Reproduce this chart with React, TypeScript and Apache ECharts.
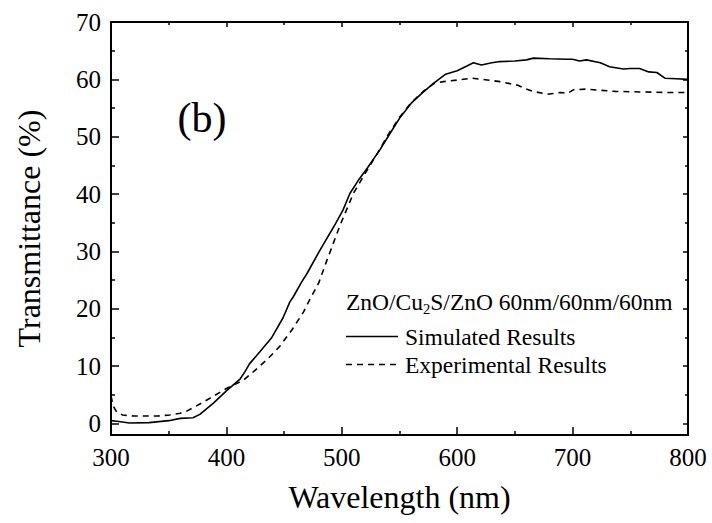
import React, { useEffect, useRef } from "react";
import * as echarts from "echarts";

const simWavelength = [300, 305, 316, 333, 350, 360, 371, 377, 389, 400, 412, 416, 420, 429, 439, 449, 455, 458, 465, 470, 481, 493, 501, 507, 515, 522, 533, 540, 545, 550, 560, 570, 580, 590, 600, 608, 614, 621, 630, 637, 650, 660, 666, 680, 695, 700, 706, 712, 724, 732, 744, 750, 758, 766, 773, 780, 790, 800];
const simTransmittance = [0.5, 0.4, 0.1, 0.15, 0.5, 0.9, 1.0, 1.6, 3.6, 5.7, 7.8, 9.0, 10.4, 12.5, 14.9, 18.4, 21.2, 22.1, 24.6, 26.2, 30.2, 34.3, 37.2, 40.1, 42.6, 44.5, 47.7, 50.0, 51.6, 53.2, 55.8, 57.7, 59.4, 60.9, 61.5, 62.3, 62.9, 62.5, 62.9, 63.1, 63.2, 63.4, 63.7, 63.6, 63.5, 63.5, 63.2, 63.4, 62.9, 62.2, 61.8, 61.9, 61.9, 61.3, 61.2, 60.2, 60.1, 60.0];

const expWavelength = [300, 302, 305, 310, 320, 340, 351, 360, 366, 377, 389, 400, 412, 415, 425, 436, 446, 457, 467, 472, 480, 487, 498, 510, 522, 533, 540, 550, 560, 570, 580, 588, 601, 613, 626, 637, 652, 659, 666, 678, 689, 696, 701, 712, 724, 737, 761, 787, 800];
const expTransmittance = [4.8, 3.0, 2.0, 1.5, 1.3, 1.3, 1.5, 1.8, 2.2, 3.4, 4.8, 6.1, 7.3, 7.6, 9.3, 11.3, 13.4, 16.4, 19.5, 21.5, 24.5, 28.4, 34.3, 40.1, 44.2, 47.8, 50.3, 53.4, 55.9, 57.8, 59.3, 59.6, 59.9, 60.2, 59.9, 59.6, 59.0, 58.4, 57.9, 57.4, 57.7, 57.6, 58.2, 58.3, 58.1, 57.9, 57.8, 57.7, 57.7];

const yMajorTicks = [0, 10, 20, 30, 40, 50, 60, 70];
const yMinorTicks = [5, 15, 25, 35, 45, 55, 65];

const seriesNames = ["Simulated Results", "Experimental Results"];
const panelLabel = "(b)";
const sampleLabelA = "ZnO/Cu";
const sampleLabelSub = "2";
const sampleLabelB = "S/ZnO 60nm/60nm/60nm";

const FONT = "Liberation Serif";

export default function App() {
  const ref = useRef<HTMLDivElement>(null);
  useEffect(() => {
    document.body.style.margin = "0";
    const chart = echarts.init(ref.current!, undefined, { renderer: "svg" });
    const simData = simWavelength.map((w, i) => [w, simTransmittance[i]]);
    const expData = expWavelength.map((w, i) => [w, expTransmittance[i]]);
    const black = "#000";
    const yBase = { type: "value", min: -2, max: 70, splitLine: { show: false } };
    const txt = (text: string, x: number, y: number, size: number) => ({
      type: "text", x, y,
      style: { text, fontFamily: FONT, fontSize: size, fill: black, align: "left", verticalAlign: "middle" },
    });
    chart.setOption({
      animation: false,
      backgroundColor: "#fff",
      grid: { left: 111, right: 24, top: 22, bottom: 88, containLabel: false },
      xAxis: [
        {
          type: "value", min: 300, max: 800, interval: 100, position: "bottom",
          axisLine: { show: true, onZero: false, lineStyle: { color: black, width: 2 } },
          axisTick: { show: true, inside: true, length: 8, lineStyle: { color: black, width: 1.5 } },
          minorTick: { show: true, splitNumber: 2, length: 4, lineStyle: { color: black, width: 1.5 } },
          axisLabel: { fontFamily: FONT, fontSize: 25, color: black, margin: 10 },
          splitLine: { show: false },
          name: "Wavelength (nm)", nameLocation: "middle", nameGap: 46,
          nameTextStyle: { fontFamily: FONT, fontSize: 32, color: black },
        },
        {
          type: "value", min: 300, max: 800, interval: 100, position: "top",
          axisLine: { show: true, onZero: false, lineStyle: { color: black, width: 2 } },
          axisTick: { show: true, inside: true, length: 5, lineStyle: { color: black, width: 1.5 } },
          minorTick: { show: true, splitNumber: 2, length: 3, lineStyle: { color: black, width: 1.5 } },
          axisLabel: { show: false },
          splitLine: { show: false },
        },
      ],
      yAxis: [
        {
          ...yBase, position: "left",
          axisLine: { show: true, onZero: false, lineStyle: { color: black, width: 2 } },
          axisTick: { show: true, inside: true, length: 8, customValues: yMajorTicks, lineStyle: { color: black, width: 1.5 } },
          axisLabel: { show: true, customValues: yMajorTicks, fontFamily: FONT, fontSize: 25, color: black, margin: 10 },
          name: "Transmittance (%)", nameLocation: "middle", nameGap: 66,
          nameTextStyle: { fontFamily: FONT, fontSize: 32, color: black },
        },
        {
          ...yBase, position: "left",
          axisLine: { show: false },
          axisTick: { show: true, inside: true, length: 4, customValues: yMinorTicks, lineStyle: { color: black, width: 1.5 } },
          axisLabel: { show: false },
        },
        {
          ...yBase, position: "right",
          axisLine: { show: true, onZero: false, lineStyle: { color: black, width: 2 } },
          axisTick: { show: true, inside: true, length: 5, customValues: yMajorTicks, lineStyle: { color: black, width: 1.5 } },
          axisLabel: { show: false },
        },
        {
          ...yBase, position: "right",
          axisLine: { show: false },
          axisTick: { show: true, inside: true, length: 3, customValues: yMinorTicks, lineStyle: { color: black, width: 1.5 } },
          axisLabel: { show: false },
        },
      ],
      series: [
        {
          name: seriesNames[0], type: "line", data: simData, xAxisIndex: 0, yAxisIndex: 0,
          showSymbol: false, symbol: "none", smooth: false,
          lineStyle: { color: black, width: 1.6, type: "solid" },
        },
        {
          name: seriesNames[1], type: "line", data: expData, xAxisIndex: 0, yAxisIndex: 0,
          showSymbol: false, symbol: "none", smooth: false,
          lineStyle: { color: black, width: 1.6, type: [6, 5] },
        },
      ],
      graphic: [
        {
          type: "text", x: 202, y: 118,
          style: { text: panelLabel, fontFamily: FONT, fontSize: 42, fill: black, align: "center", verticalAlign: "middle" },
        },
        txt(sampleLabelA, 346, 302, 23.5),
        txt(sampleLabelSub, 423, 309, 14.6),
        txt(sampleLabelB, 430.3, 302, 23.5),
        {
          type: "line", shape: { x1: 346, y1: 336.5, x2: 398, y2: 336.5 },
          style: { stroke: black, lineWidth: 1.6 },
        },
        txt(seriesNames[0], 405, 336.5, 23.5),
        {
          type: "line", shape: { x1: 346, y1: 364.5, x2: 398, y2: 364.5 },
          style: { stroke: black, lineWidth: 1.6, lineDash: [6, 5] },
        },
        txt(seriesNames[1], 405, 364.5, 23.5),
      ],
    });
    return () => chart.dispose();
  }, []);
  return <div ref={ref} style={{ width: 712, height: 523 }} />;
}
